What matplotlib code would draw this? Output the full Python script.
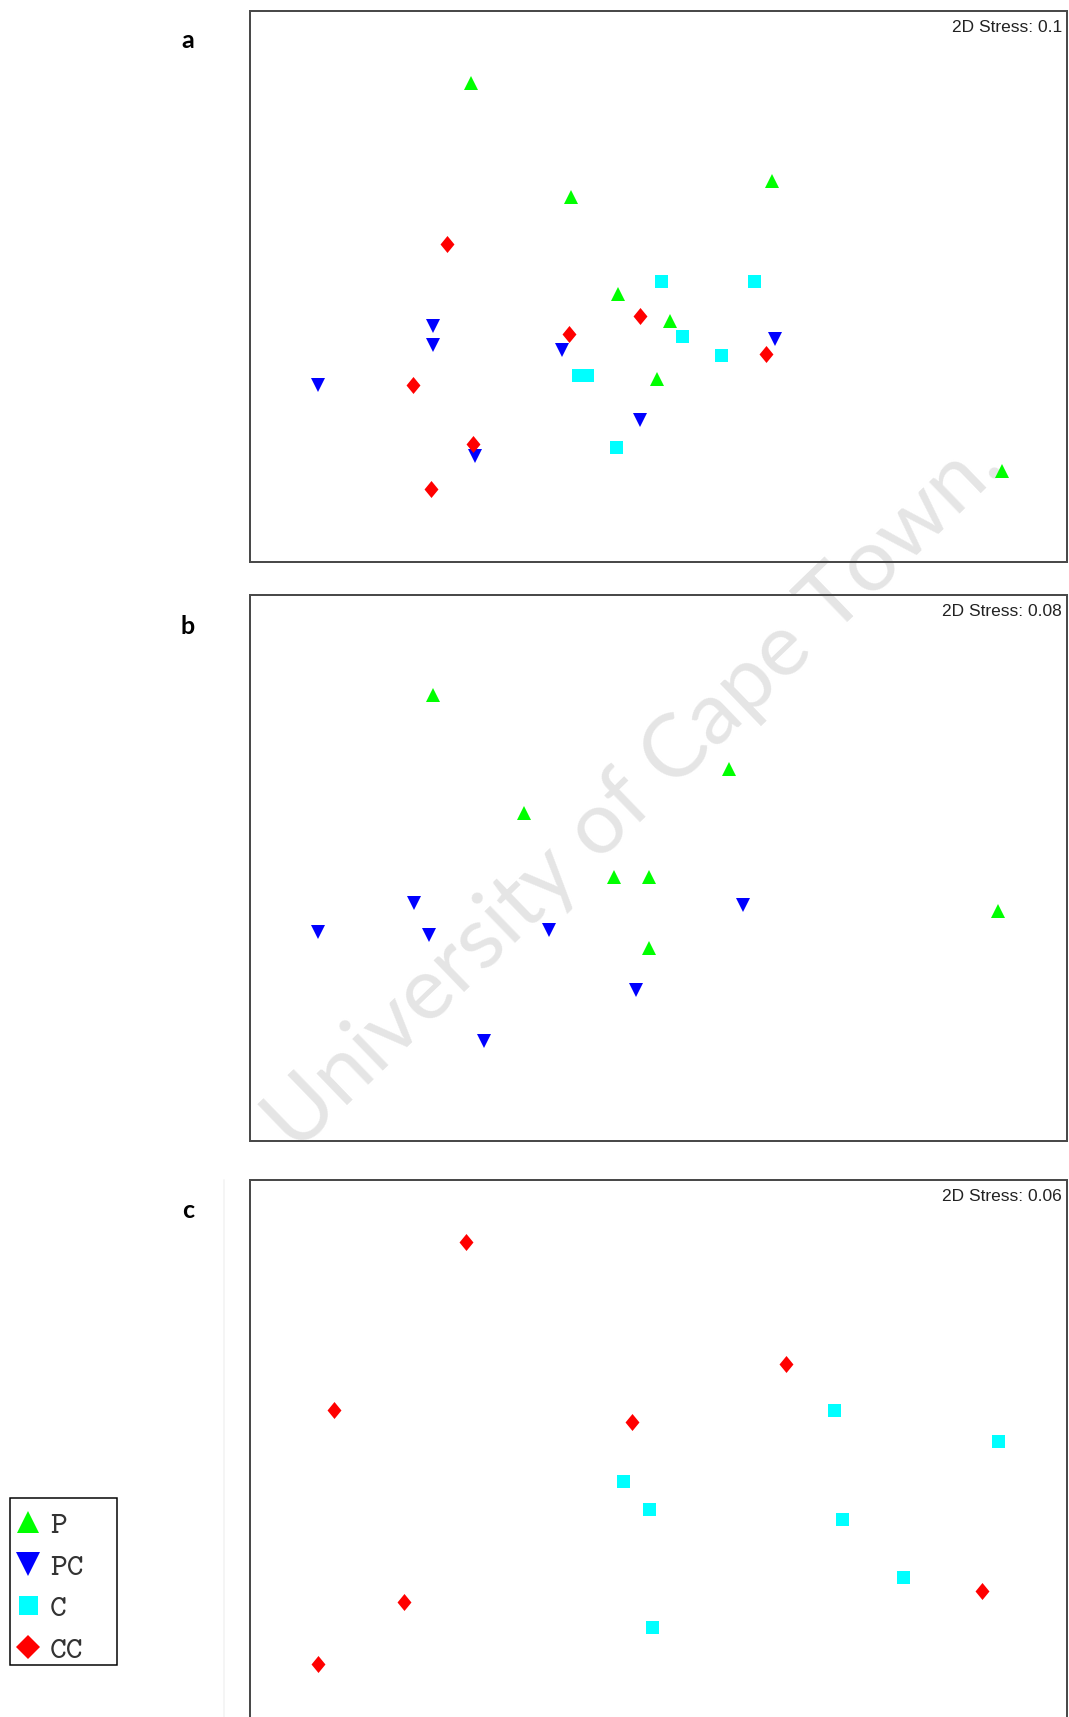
import matplotlib
matplotlib.use("Agg")
import matplotlib.pyplot as plt
from matplotlib.lines import Line2D
from matplotlib.patches import Rectangle
from matplotlib.textpath import TextPath
from matplotlib.font_manager import FontProperties

# nMDS ordination coordinates (arbitrary units inside a 0-100 frame)
a_P_x = [27.1, 39.3, 63.9, 45.0, 51.4, 49.8, 92.1]
a_P_y = [87.0, 66.2, 69.2, 48.7, 43.8, 33.2, 16.5]
a_PC_x = [22.4, 22.4, 8.3, 38.2, 64.2, 47.7, 27.6]
a_PC_y = [42.9, 39.3, 32.2, 38.5, 40.5, 25.8, 19.2]
a_C_x = [50.3, 61.7, 52.9, 57.7, 40.2, 41.2, 44.8]
a_C_y = [51.0, 51.0, 41.0, 37.5, 34.0, 34.0, 20.9]
a_CC_x = [24.1, 47.7, 39.0, 63.2, 20.0, 27.3, 22.1]
a_CC_y = [57.7, 44.6, 41.4, 37.7, 32.1, 21.4, 13.2]

b_P_x = [22.4, 58.6, 33.5, 44.5, 48.8, 91.6, 48.8]
b_P_y = [81.6, 68.1, 60.0, 48.4, 48.4, 42.2, 35.4]
b_PC_x = [20.1, 60.3, 8.3, 21.9, 36.6, 47.3, 28.6]
b_PC_y = [43.5, 43.3, 38.2, 37.8, 38.7, 27.7, 18.3]

c_CC_x = [26.4, 65.6, 10.3, 46.7, 89.6, 18.9, 8.3]
c_CC_y = [88.8, 66.6, 58.3, 56.1, 25.4, 23.4, 12.2]
c_C_x = [71.5, 91.5, 45.7, 48.8, 72.5, 79.9, 49.2]
c_C_y = [58.2, 52.6, 45.4, 40.3, 38.4, 27.9, 18.9]

groups = ["P", "PC", "C", "CC"]
stress_values = ["0.1", "0.08", "0.06"]
panel_labels = ["a", "b", "c"]
watermark = "University of Cape Town."

panels = [
    {"P": (a_P_x, a_P_y), "PC": (a_PC_x, a_PC_y), "C": (a_C_x, a_C_y), "CC": (a_CC_x, a_CC_y)},
    {"P": (b_P_x, b_P_y), "PC": (b_PC_x, b_PC_y)},
    {"C": (c_C_x, c_C_y), "CC": (c_CC_x, c_CC_y)},
]

# ---- styling ----
W, H, DPI = 1069, 1717, 100
PT = 72.0 / DPI  # points per pixel

diamond = [(0, 1), (0.82, 0), (0, -1), (-0.82, 0), (0, 1)]
styles = {
    "P": dict(marker="^", color="#00FF00", size=14.5),
    "PC": dict(marker="v", color="#0000FF", size=14.5),
    "C": dict(marker="s", color="#00FFFF", size=13.0),
    "CC": dict(marker=diamond, color="#FF0000", size=17.0),
}
legend_styles = {
    "P": dict(marker="^", size=23),
    "PC": dict(marker="v", size=24),
    "C": dict(marker="s", size=19),
    "CC": dict(marker="D", size=17.5),
}

# panel frames in pixels: left, top, width, height
frames = [(250, 11, 817, 551), (250, 595, 817, 546), (250, 1180, 817, 551)]
label_baselines = [48, 634.5, 1218.5]

fig = plt.figure(figsize=(W / DPI, H / DPI), dpi=DPI)
fig.patch.set_facecolor("white")

for i, (frame, data) in enumerate(zip(frames, panels)):
    l, t, w, h = frame
    ax = fig.add_axes([l / W, 1 - (t + h) / H, w / W, h / H])
    ax.set_facecolor("none")
    ax.set_xlim(0, 100)
    ax.set_ylim(0, 100)
    ax.set_xticks([])
    ax.set_yticks([])
    for sp in ax.spines.values():
        sp.set_color("#4a4a4a")
        sp.set_linewidth(2 * PT)
    for g in groups:
        if g not in data:
            continue
        x, y = data[g]
        st = styles[g]
        ax.plot(x, y, ls="none", marker=st["marker"], ms=st["size"] * PT,
                mfc=st["color"], mec=st["color"], mew=0, zorder=3)
    ax.annotate(f"2D Stress: {stress_values[i]}", xy=(1, 1), xycoords="axes fraction",
                xytext=(-5, -9), textcoords="offset pixels", ha="right", va="top",
                fontsize=12.5, family="Liberation Sans", color="#222222")
    fig.text(188 / W, 1 - label_baselines[i] / H, panel_labels[i], ha="center",
             va="baseline", fontsize=18, fontweight="bold",
             family=["Lato", "DejaVu Sans"], color="black")

# faint scan line left of the bottom panel
fig.add_artist(Line2D([224 / W, 224 / W], [0, 1 - 1180 / H], transform=fig.transFigure,
                      color="#f3f3f3", lw=1.5 * PT, zorder=-2))

# legend: entries plus a separate square-cornered box around them
handles = [Line2D([], [], ls="none", marker=legend_styles[g]["marker"],
                  ms=legend_styles[g]["size"] * PT, mfc=styles[g]["color"],
                  mec=styles[g]["color"], mew=0) for g in groups]
fig.legend(handles, groups, loc="upper left",
           bbox_to_anchor=(9.5 / W, 1 - 1505 / H), bbox_transform=fig.transFigure,
           borderaxespad=0, borderpad=0.19, handlelength=0.78, handletextpad=0.3,
           labelspacing=0.38,
           prop=FontProperties(family=["cmtt10", "DejaVu Sans Mono"], size=23),
           labelcolor="#333333", frameon=False, numpoints=1)
fig.add_artist(Rectangle((9.5 / W, 1 - 1665 / H), (117 - 9.5) / W, (1665 - 1498) / H,
                         transform=fig.transFigure, fill=False, edgecolor="black",
                         linewidth=1.5 * PT))

# diagonal watermark
wm_prop = FontProperties(family="Lato")
em_width = TextPath((0, 0), watermark, size=1, prop=wm_prop).get_extents().width
wm_len_px = 975
fig.text(634 / W, 1 - 794 / H, watermark, rotation=44, rotation_mode="anchor",
         ha="center", va="center", fontproperties=wm_prop,
         fontsize=wm_len_px / em_width * PT, color="#e5e5e5", zorder=-1)

fig.savefig("out.png", dpi=DPI, facecolor="white")
